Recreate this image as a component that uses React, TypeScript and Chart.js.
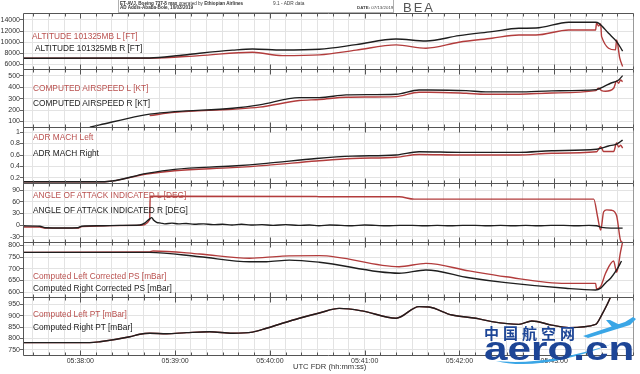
import React, { useEffect, useRef } from 'react';
import { Chart, registerables } from 'chart.js';

Chart.register(...registerables);

// x values: seconds after 05:37:00 UTC
const timeMin = 23.7;
const timeMax = 410.5;
const minuteTicks = [60, 120, 180, 240, 300, 360];
const minuteLabels = ['05:38:00', '05:39:00', '05:40:00', '05:41:00', '05:42:00', '05:43:00'];

// y tick values per panel
const altitudeTicks = [6000, 8000, 10000, 12000, 14000];
const airspeedTicks = [100, 200, 300, 400, 500];
const machTicks = [0.2, 0.4, 0.6, 0.8, 1];
const aoaTicks = [-30, 0, 30, 60, 90];
const psTicks = [600, 650, 700, 750, 800];
const ptTicks = [750, 800, 850, 900, 950];

// ---- ALTITUDE [FT] ----
const altitudeL: [number, number][] = [
  [23.7, 7100], [103.9, 7100], [135.5, 7570], [169, 8180], [187.9, 7560], [211.3, 7700],
  [234.6, 8550], [259.9, 9500], [278.8, 8900], [299.7, 9980], [320.5, 10700], [337.6, 11300],
  [348.4, 11300], [369.2, 12200], [386.2, 12200], [386.8, 13500], [388.1, 12900], [389.4, 13300],
  [390.0, 11000], [398.8, 8600], [399.5, 10400], [401.5, 7100], [403.3, 5600],
];
const altitudeR: [number, number][] = [
  [23.7, 7100], [103.9, 7150], [122.8, 7600], [135.5, 8000], [156.3, 8550], [169, 8770],
  [187.9, 8580], [211.3, 8720], [234.6, 9550], [259.9, 10580], [278.8, 10200], [299.7, 11170],
  [320.5, 11900], [337.6, 12500], [348.4, 12550], [369.2, 13590], [386.2, 13600], [388.1, 13450],
  [394.4, 11600], [399.5, 10100], [403.3, 8400],
];

// ---- COMPUTED AIRSPEED [KT] ----
const airspeedL: [number, number][] = [
  [103.9, 152], [119.7, 180], [156.3, 208], [173.4, 226], [198.6, 284], [211.3, 293],
  [228.3, 313], [259.9, 319], [274.4, 357], [280.7, 357], [304.2, 348], [316.7, 340],
  [337.6, 340], [358.4, 351], [386.2, 371], [388.1, 392], [390.0, 371], [392.5, 366],
  [397.6, 392], [399.5, 456], [400.8, 436], [402.0, 465], [403.3, 450],
];
const airspeedR: [number, number][] = [
  [66.0, 51], [72.3, 71], [97.6, 150], [103.9, 165], [119.7, 187], [156.3, 217], [173.4, 246],
  [198.6, 310], [211.3, 310], [228.3, 334], [259.9, 340], [274.4, 377], [280.7, 377],
  [304.2, 371], [316.7, 360], [337.6, 360], [358.4, 369], [386.8, 380], [391.3, 406],
  [395.7, 436], [400.8, 465], [403.3, 503],
];

// ---- ADR MACH ----
const machL: [number, number][] = [
  [23.7, 0.136], [75.5, 0.136], [102.0, 0.27], [119.7, 0.327], [156.3, 0.38], [177.8, 0.42],
  [209.4, 0.496], [232.1, 0.54], [259.9, 0.56], [274.4, 0.61], [301.6, 0.60], [337.6, 0.60],
  [358.4, 0.63], [386.8, 0.657], [389.4, 0.744], [391.3, 0.66], [397.6, 0.66], [399.5, 0.81],
  [400.8, 0.74], [402.0, 0.77], [403.3, 0.72],
];
const machR: [number, number][] = [
  [23.7, 0.136], [75.5, 0.136], [102.0, 0.28], [119.7, 0.35], [156.3, 0.409], [177.8, 0.455],
  [209.4, 0.54], [232.1, 0.58], [259.9, 0.60], [274.4, 0.657], [301.6, 0.646], [337.6, 0.646],
  [358.4, 0.675], [386.8, 0.70], [394.4, 0.757], [399.5, 0.79], [403.3, 0.86],
];

// ---- ANGLE OF ATTACK [DEG] ----
const aoaL: [number, number][] = [
  [23.7, -5], [34.4, -5], [37.6, -8], [58.4, -8], [60.9, -4], [97.6, -1], [103.9, 14],
  [104.2, 74], [209.4, 73.5], [211.3, 72.5], [261.8, 72.5], [271.3, 66.5], [385.0, 66.5],
  [387.5, 20], [389.4, -13], [391.3, 34], [393.2, 39], [396.3, 38], [399.5, 24],
  [402.0, -40], [403.3, -45],
];
const aoaR: [number, number][] = [
  [23.7, -2], [34.4, -3], [37.6, -7], [50, -7.5], [58.4, -7], [60.9, -3], [72, -2], [85, -1],
  [97.6, 0], [100.7, 5], [103.9, 16], [105.2, 19], [106.5, 12], [108.3, 7], [111, 5],
  [113.4, 3], [118, 5], [122, 3], [127, 4], [132, 2], [138, 3], [144, 1], [150, 2], [156, 0],
  [162, 2], [168, 0], [175, 1], [182, -1], [190, 1], [198, -1], [205, 0], [211, -2], [218, 0],
  [225, -1], [232, -2], [240, 0], [247, -1], [254, -2], [262, -1], [270, -1], [278, -2],
  [286, -1], [294, -2], [302, -1], [310, -1], [318, -2], [326, -1], [334, -2], [342, -1],
  [350, -2], [358, -1], [366, -1], [374, -2], [382, -1], [386.8, -2], [390, -6], [396, -8],
  [403.3, -8],
];

// ---- CORRECTED PS [mBar] ----
const psL: [number, number][] = [
  [23.7, 770], [103.9, 772], [106, 776], [135.5, 763], [167.1, 745], [187.9, 754], [211.3, 756],
  [261.8, 709], [278.8, 723], [306.1, 691], [329.4, 666], [367.3, 638], [386.2, 638],
  [386.8, 614], [389.4, 625], [392.5, 681], [397.6, 733], [399.5, 685], [402.0, 773],
  [403.3, 815],
];
const psR: [number, number][] = [
  [23.7, 770], [103.9, 770], [135.5, 751], [167.1, 730], [177.8, 730], [192.3, 737],
  [211.3, 728], [261.8, 681], [278.8, 695], [306.1, 662], [329.4, 641], [367.3, 617],
  [386.2, 610], [389.4, 618], [392.5, 640], [395.7, 660], [399.5, 695], [402.6, 733],
];

// ---- PT [mBar] ----
const ptR: [number, number][] = [
  [23.7, 782], [66.0, 782], [72.3, 786], [91.3, 808], [97.6, 819], [103.9, 823], [114.6, 821],
  [127.3, 826], [141.8, 830], [156.3, 823], [169, 828], [177.8, 845], [187.9, 867],
  [198.6, 889], [211.3, 912], [223.9, 932], [238.4, 921], [259.9, 889], [274.4, 940],
  [280.7, 938], [295.3, 903], [310.4, 889], [320.5, 874], [337.6, 862], [345.8, 877],
  [358.4, 859], [369.2, 848], [386.2, 862], [390.0, 903], [395.7, 983], [398, 1030],
];
const ptL: [number, number][] = ptR;

const FONT = '"Liberation Sans", Arial, Helvetica, sans-serif';
const RED = '#b23c3c';
const BLACK = '#1e1e1e';
const RED_TEXT = '#b9504e';
const GRID = '#e3e3e3';

type PanelCfg = {
  top: number; bottom: number; min: number; max: number; ticks: number[];
  L: [number, number][]; R: [number, number][];
  labelL: string; labelR: string; yL: number; yR: number; xL: number; xR: number;
  fmt?: (v: number) => string;
};

const panels: PanelCfg[] = [
  { top: 13, bottom: 69, min: 5150, max: 15264, ticks: altitudeTicks, L: altitudeL, R: altitudeR,
    labelL: 'ALTITUDE 101325MB L [FT]', labelR: 'ALTITUDE 101325MB R [FT]', yL: 36.3, yR: 48.3, xL: 32, xR: 35 },
  { top: 69, bottom: 127, min: 52, max: 561, ticks: airspeedTicks, L: airspeedL, R: airspeedR,
    labelL: 'COMPUTED AIRSPEED L [KT]', labelR: 'COMPUTED AIRSPEED R [KT]', yL: 88.3, yR: 103.3, xL: 33, xR: 33 },
  { top: 127, bottom: 183, min: 0.113, max: 1.087, ticks: machTicks, L: machL, R: machR,
    labelL: 'ADR MACH Left', labelR: 'ADR MACH Right', yL: 137.3, yR: 152.7, xL: 33, xR: 33,
    fmt: (v) => (Math.abs(v - 1) < 1e-6 ? '1' : v.toFixed(1)) },
  { top: 183, bottom: 242, min: -43.6, max: 108, ticks: aoaTicks, L: aoaL, R: aoaR,
    labelL: 'ANGLE OF ATTACK INDICATED L [DEG]', labelR: 'ANGLE OF ATTACK INDICATED R [DEG]', yL: 195, yR: 210, xL: 33, xR: 33 },
  { top: 242, bottom: 297, min: 580, max: 814, ticks: psTicks, L: psL, R: psR,
    labelL: 'Computed Left Corrected PS [mBar]', labelR: 'Computed Right Corrected PS [mBar]', yL: 276, yR: 288.3, xL: 33, xR: 33 },
  { top: 297, bottom: 355, min: 728, max: 982, ticks: ptTicks, L: ptL, R: ptR,
    labelL: 'Computed Left PT [mBar]', labelR: 'Computed Right PT [mBar]', yL: 314, yR: 326.7, xL: 33, xR: 33 },
];

const framePlugin = {
  id: 'frame',
  afterDraw(chart: any) {
    const { ctx, chartArea: a, scales } = chart;
    const xs = scales.x;
    const top = Math.round(a.top) + 0.5;
    const bot = Math.round(a.bottom) + 0.5;
    const left = Math.round(a.left) + 0.5;
    const right = Math.round(a.right) - 0.5;
    ctx.save();
    ctx.lineWidth = 1;
    ctx.strokeStyle = '#555';
    ctx.beginPath();
    ctx.moveTo(left, top); ctx.lineTo(right, top);
    ctx.moveTo(left, bot); ctx.lineTo(right, bot);
    ctx.moveTo(left, top); ctx.lineTo(left, bot);
    ctx.stroke();
    ctx.strokeStyle = '#999';
    ctx.beginPath();
    ctx.moveTo(right, top); ctx.lineTo(right, bot);
    ctx.stroke();
    ctx.strokeStyle = '#555';
    ctx.beginPath();
    for (const t of xs.ticks) {
      const px = Math.round(xs.getPixelForValue(t.value)) + 0.5;
      const len = Math.abs(t.value % 60) < 0.01 ? 5 : 3;
      ctx.moveTo(px, bot); ctx.lineTo(px, bot - len);
      ctx.moveTo(px, top); ctx.lineTo(px, top + len);
    }
    ctx.stroke();
    ctx.restore();
  },
};

function toXY(arr: [number, number][]) {
  return arr.map(([x, y]) => ({ x, y }));
}

function Panel({ cfg, last }: { cfg: PanelCfg; last: boolean }) {
  const ref = useRef<HTMLCanvasElement | null>(null);
  const canvasTop = cfg.top - 10;
  const canvasH = last ? 374 - canvasTop : cfg.bottom - cfg.top + 20;
  useEffect(() => {
    const chart = new Chart(ref.current as HTMLCanvasElement, {
      type: 'line',
      data: {
        datasets: [
          { data: toXY(cfg.R), borderColor: BLACK, borderWidth: 1.4, pointRadius: 0, fill: false, cubicInterpolationMode: 'monotone' },
          { data: toXY(cfg.L), borderColor: RED, borderWidth: 1.4, pointRadius: 0, fill: false, cubicInterpolationMode: 'monotone' },
        ] as any,
      },
      options: {
        animation: false,
        responsive: false,
        maintainAspectRatio: false,
        events: [],
        layout: { padding: { left: 0, right: 6, top: 10, bottom: last ? 0 : 10 } },
        plugins: { legend: { display: false }, tooltip: { enabled: false } },
        scales: {
          x: {
            type: 'linear',
            min: timeMin,
            max: timeMax,
            border: { display: false },
            grid: { color: GRID, drawTicks: false },
            ticks: {
              display: last,
              stepSize: 10,
              includeBounds: false,
              autoSkip: false,
              maxRotation: 0,
              padding: 2,
              color: '#333',
              font: { size: 7, family: FONT },
              callback: (v: any) => {
                const i = minuteTicks.findIndex((m) => Math.abs(m - Number(v)) < 0.01);
                return i >= 0 ? minuteLabels[i] : '';
              },
            },
            afterFit: (s: any) => { s.height = last ? 19 : 0; },
          } as any,
          y: {
            min: cfg.min,
            max: cfg.max,
            border: { display: false },
            grid: { color: GRID, tickLength: 3, tickColor: '#666' },
            afterBuildTicks: (s: any) => { s.ticks = cfg.ticks.map((value) => ({ value })); },
            ticks: {
              autoSkip: false,
              padding: 0,
              color: '#333',
              font: { size: 7, family: FONT },
              callback: (v: any) => (cfg.fmt ? cfg.fmt(Number(v)) : String(Math.round(Number(v)))),
            },
            afterFit: (s: any) => { s.width = 23; },
          } as any,
        },
      } as any,
      plugins: [framePlugin],
    });
    return () => chart.destroy();
  }, []);
  return (
    <canvas
      ref={ref}
      width={640}
      height={canvasH}
      style={{ position: 'absolute', left: 0, top: canvasTop, width: 640, height: canvasH }}
    />
  );
}

const legendFont = 8.3;

function Txt({ x, cy, size, color, children, weight, style }: any) {
  return (
    <div
      style={{
        position: 'absolute', left: x, top: cy - size * 0.49, fontSize: size, lineHeight: `${size}px`,
        fontFamily: FONT, color, whiteSpace: 'nowrap', fontWeight: weight || 'normal', ...(style || {}),
      }}
    >
      {children}
    </div>
  );
}

export default function App() {
  return (
    <div style={{ position: 'absolute', left: 0, top: 0, width: 640, height: 374, background: '#fff', overflow: 'hidden' }}>
      {panels.map((p, i) => (
        <Panel key={i} cfg={p} last={i === panels.length - 1} />
      ))}
      {panels.map((p, i) => (
        <React.Fragment key={'l' + i}>
          <Txt x={p.xL} cy={p.yL} size={legendFont} color={RED_TEXT}>{p.labelL}</Txt>
          <Txt x={p.xR} cy={p.yR} size={legendFont} color="#1a1a1a">{p.labelR}</Txt>
        </React.Fragment>
      ))}
      {/* header */}
      <div style={{ position: 'absolute', left: 118, top: -1, width: 276, height: 13.5, border: '1px solid #b0b0b0', boxSizing: 'border-box', background: '#fff' }} />
      <Txt x={120} cy={4} size={4.6} color="#333" weight="bold">
        ET-AVJ, Boeing 737-8 max <span style={{ fontWeight: 'normal' }}>operated by</span> Ethiopian Airlines
      </Txt>
      <Txt x={120} cy={8.5} size={4.6} color="#333" weight="bold">AD Addis-Ababa-Bole, 10/03/2019</Txt>
      <Txt x={273} cy={4} size={4.8} color="#444">9.1 - ADR data</Txt>
      <Txt x={357} cy={8.5} size={4.4} color="#444">
        <span style={{ fontWeight: 'bold' }}>DATE:</span> 07/13/2019
      </Txt>
      <Txt x={403} cy={7.5} size={13} color="#555" style={{ letterSpacing: 2 }}>BEA</Txt>
      {/* x-axis title */}
      <Txt x={293} cy={367} size={7.6} color="#333">UTC FDR (hh:mm:ss)</Txt>
      {/* watermark */}
      <svg width={640} height={374} style={{ position: 'absolute', left: 0, top: 0 }}>
        <path d="M496 361 Q 540 372 612 344 Q 545 366 496 361 Z" fill="#3aa6e6" />
        <path d="M583 336 L 625 322 L 633 317 L 636 319 L 630 325 L 588 338 Z" fill="#3aa6e6" />
        <path d="M612 327 L 606 320 L 610 320 L 620 325 Z" fill="#3aa6e6" />
      </svg>
      <div style={{ position: 'absolute', left: 484, top: 325, fontSize: 15, lineHeight: '16px', fontWeight: 'bold', color: '#1d4596', letterSpacing: 4, fontFamily: '"Noto Sans CJK SC", sans-serif', whiteSpace: 'nowrap' }}>中国航空网</div>
      <div style={{ position: 'absolute', left: 484, top: 332, fontSize: 33, lineHeight: '33px', fontWeight: 'bold', color: '#1d4596', fontFamily: FONT, whiteSpace: 'nowrap', transform: 'scaleX(1.28)', transformOrigin: 'left top' }}>aero.cn</div>
    </div>
  );
}
